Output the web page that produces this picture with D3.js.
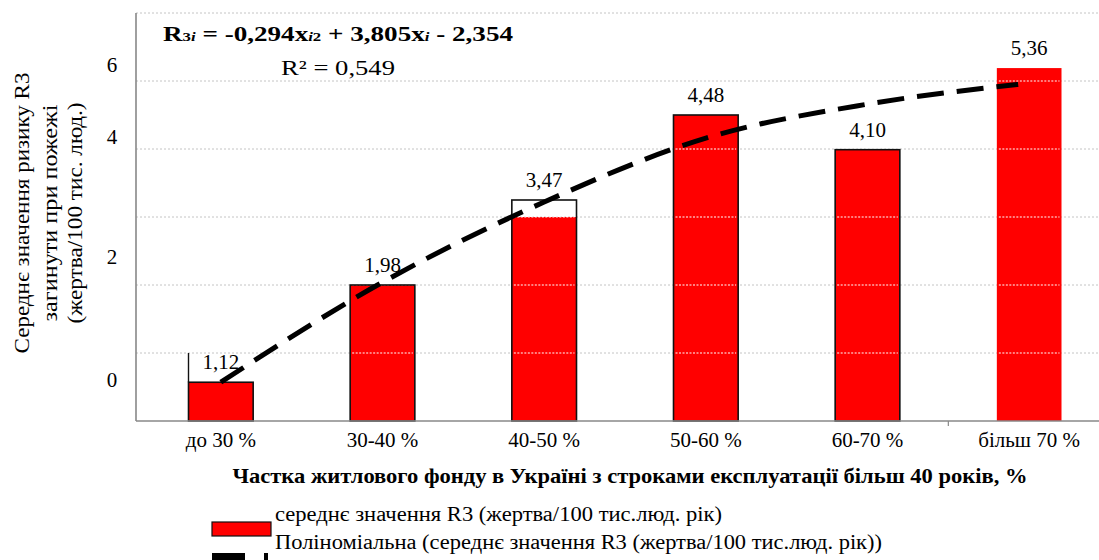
<!DOCTYPE html>
<html lang="uk">
<head>
  <meta charset="utf-8">
  <title></title>
  <style type="text/css">
    body { margin: 0; background: #fff; }
    svg  { display: block; }
    text { font-family: "Liberation Serif", "Times New Roman", serif; fill: #000; }
  </style>
</head>
<body>
<script src="https://cdnjs.cloudflare.com/ajax/libs/d3/7.8.5/d3.min.js"></script>
<script>
  //----------------------------------------------------------------------------
  // categories and the printed mean values of R3
  var categories = ["до 30 %", "30-40 %", "40-50 %", "50-60 %", "60-70 %", "більш 70 %"];
  var meanR3 = [1.12, 1.98, 3.47, 4.48, 4.10, 5.36];

  var barTop = [0.57, 2.0, 3.0, 4.5, 3.99, 5.19];
  var boxTop = [0.57, 2.0, 3.25, 4.5, 3.99, 5.19];
  var outlined = [true, true, true, true, true, false];

  // polynomial trend as it is drawn, one point per category
  var trend = [0.57, 2.04, 3.22, 4.16, 4.66, 4.95];

  // y tick labels and where they sit
  var yTickText = ["0", "2", "4", "6"];
  var yTickAt = [0.6, 2.41, 4.18, 5.24];

  var yTitle = ["Середнє значення ризику R3", "загинути при пожежі", "(жертва/100 тис. люд.)"];
  var xTitle = "Частка житлового фонду в Україні з строками експлуатації більш 40 років, %";
  var legendText = ["середнє значення R3 (жертва/100 тис.люд. рік)",
                    "Поліноміальна (середнє значення R3 (жертва/100 тис.люд. рік))"];

  var width = 1099;
  var height = 560;

  var svg = d3.select("body")
    .append("svg")
      .attr("width", width)
      .attr("height", height);

  var x = d3.scaleBand()
    .domain(categories)
    .range([140, 1110])
    .paddingInner(0.6)
    .paddingOuter(0.3);

  var y = d3.scaleLinear()
    .domain([0, 6])
    .range([421, 13]);

  var bw = x.bandwidth();
  var fmt = function(v) { return d3.format(".2f")(v).replace(".", ","); };

  // gridlines (dotted)
  svg.append("g").selectAll("line")
    .data(y.ticks(6).filter(function(d) { return d > 0; }))
    .enter().append("line")
      .attr("x1", 136).attr("x2", width)
      .attr("y1", function(d) { return y(d); })
      .attr("y2", function(d) { return y(d); })
      .attr("stroke", "#c4c4c4")
      .attr("stroke-dasharray", "2,2");

  // bars
  var bars = svg.append("g").selectAll("g")
    .data(categories)
    .enter().append("g");

  bars.append("rect")
    .attr("x", function(d) { return x(d); })
    .attr("y", function(d, i) { return y(barTop[i]); })
    .attr("width", bw)
    .attr("height", function(d, i) { return y(0) - y(barTop[i]); })
    .attr("fill", "#ff0000");

  // gridlines show through the red bars as white dots
  bars.each(function(d, i) {
    d3.select(this).selectAll("line")
      .data(y.ticks(6).filter(function(t) { return t > 0 && t <= barTop[i] + 0.01; }))
      .enter().append("line")
        .attr("x1", x(d) + 2).attr("x2", x(d) + bw - 2)
        .attr("y1", function(t) { return y(t); })
        .attr("y2", function(t) { return y(t); })
        .attr("stroke", "#ffffff")
        .attr("stroke-width", 1.2)
        .attr("stroke-dasharray", "2,1.5");
  });

  bars.filter(function(d, i) { return outlined[i]; })
    .append("rect")
      .attr("x", function(d) { return x(d); })
      .attr("y", function(d) { return y(boxTop[categories.indexOf(d)]); })
      .attr("width", bw)
      .attr("height", function(d) { return y(0) - y(boxTop[categories.indexOf(d)]); })
      .attr("fill", "none")
      .attr("stroke", "#111")
      .attr("stroke-width", 1.6);

  // stray left edge above the first bar
  svg.append("line")
    .attr("x1", x(categories[0])).attr("x2", x(categories[0]))
    .attr("y1", y(barTop[0])).attr("y2", y(1))
    .attr("stroke", "#111").attr("stroke-width", 1.4);

  // axes
  svg.append("line")
    .attr("x1", 136).attr("x2", 136).attr("y1", y(6)).attr("y2", y(0))
    .attr("stroke", "#888").attr("stroke-width", 1.6);
  svg.append("line")
    .attr("x1", 136).attr("x2", width).attr("y1", y(0)).attr("y2", y(0))
    .attr("stroke", "#888").attr("stroke-width", 1.6);
  var tickX = x(categories[5]) - x.step() * x.paddingInner() / 2;
  svg.append("line")
    .attr("x1", tickX).attr("x2", tickX).attr("y1", y(0)).attr("y2", y(0) + 5)
    .attr("stroke", "#888").attr("stroke-width", 1.2);

  // y tick labels
  svg.append("g").selectAll("text")
    .data(yTickText)
    .enter().append("text")
      .attr("x", 112)
      .attr("y", function(d, i) { return y(yTickAt[i]); })
      .attr("text-anchor", "middle")
      .attr("dominant-baseline", "central")
      .style("font-size", "21px")
      .text(function(d) { return d; });

  // category labels
  svg.append("g").selectAll("text")
    .data(categories)
    .enter().append("text")
      .attr("x", function(d) { return x(d) + bw / 2; })
      .attr("y", 447)
      .attr("text-anchor", "middle")
      .style("font-size", "21px")
      .text(function(d) { return d; });

  // value labels
  svg.append("g").selectAll("text")
    .data(meanR3)
    .enter().append("text")
      .attr("x", function(d, i) { return x(categories[i]) + bw / 2; })
      .attr("y", function(d, i) { return y(boxTop[i]) - 13; })
      .attr("text-anchor", "middle")
      .style("font-size", "21px")
      .text(function(d) { return fmt(d); });

  // trend line
  var line = d3.line()
    .x(function(d, i) { return x(categories[i]) + bw / 2 - (i === trend.length - 1 ? 11 : 0); })
    .y(function(d) { return y(d); })
    .curve(d3.curveMonotoneX);

  svg.append("path")
    .datum(trend)
    .attr("d", line)
    .attr("fill", "none")
    .attr("stroke", "#000")
    .attr("stroke-width", 5)
    .attr("stroke-dasharray", "27,13");

  // equation
  var eq = svg.append("text")
    .attr("x", 338).attr("y", 41)
    .attr("text-anchor", "middle")
    .attr("textLength", 350)
    .attr("lengthAdjust", "spacingAndGlyphs")
    .style("font-size", "21px")
    .style("font-weight", "bold");
  eq.append("tspan").text("R");
  eq.append("tspan").style("font-size", "13px").text("3");
  eq.append("tspan").style("font-size", "13px").style("font-style", "italic").text("i");
  eq.append("tspan").text(" = -0,294x");
  eq.append("tspan").style("font-size", "13px").style("font-style", "italic").text("i");
  eq.append("tspan").style("font-size", "13px").text("2");
  eq.append("tspan").text(" + 3,805x");
  eq.append("tspan").style("font-size", "13px").style("font-style", "italic").text("i");
  eq.append("tspan").text(" - 2,354");

  svg.append("text")
    .attr("x", 338).attr("y", 75)
    .attr("text-anchor", "middle")
    .attr("textLength", 114)
    .attr("lengthAdjust", "spacingAndGlyphs")
    .style("font-size", "21px")
    .text("R² = 0,549");

  // y title, three rotated lines
  var yTitleX = [22, 50, 75];
  var yTitleLen = [281, 217, 221];
  svg.append("g").selectAll("text")
    .data(yTitle)
    .enter().append("text")
      .attr("transform", function(d, i) { return "translate(" + yTitleX[i] + ",213) rotate(-90)"; })
      .attr("text-anchor", "middle")
      .attr("dominant-baseline", "central")
      .attr("textLength", function(d, i) { return yTitleLen[i]; })
      .attr("lengthAdjust", "spacingAndGlyphs")
      .style("font-size", "20px")
      .text(function(d) { return d; });

  // x title
  svg.append("text")
    .attr("x", 630).attr("y", 483)
    .attr("text-anchor", "middle")
    .attr("textLength", 795)
    .attr("lengthAdjust", "spacingAndGlyphs")
    .style("font-size", "21px")
    .style("font-weight", "bold")
    .text(xTitle);

  // legend
  svg.append("rect")
    .attr("x", 212).attr("y", 522).attr("width", 59).attr("height", 14)
    .attr("fill", "#ff0000").attr("stroke", "#111").attr("stroke-width", 1.2);
  svg.append("line")
    .attr("x1", 212).attr("x2", 275).attr("y1", 561).attr("y2", 561)
    .attr("stroke", "#000").attr("stroke-width", 16)
    .attr("stroke-dasharray", "33,19,4,20");

  var legendLen = [447, 607];
  var legendY = [521, 549];
  svg.append("g").selectAll("text")
    .data(legendText)
    .enter().append("text")
      .attr("x", 275)
      .attr("y", function(d, i) { return legendY[i]; })
      .attr("textLength", function(d, i) { return legendLen[i]; })
      .attr("lengthAdjust", "spacingAndGlyphs")
      .style("font-size", "20px")
      .text(function(d) { return d; });

  //----------------------------------------------------------------------------
</script>
</body>
</html>
